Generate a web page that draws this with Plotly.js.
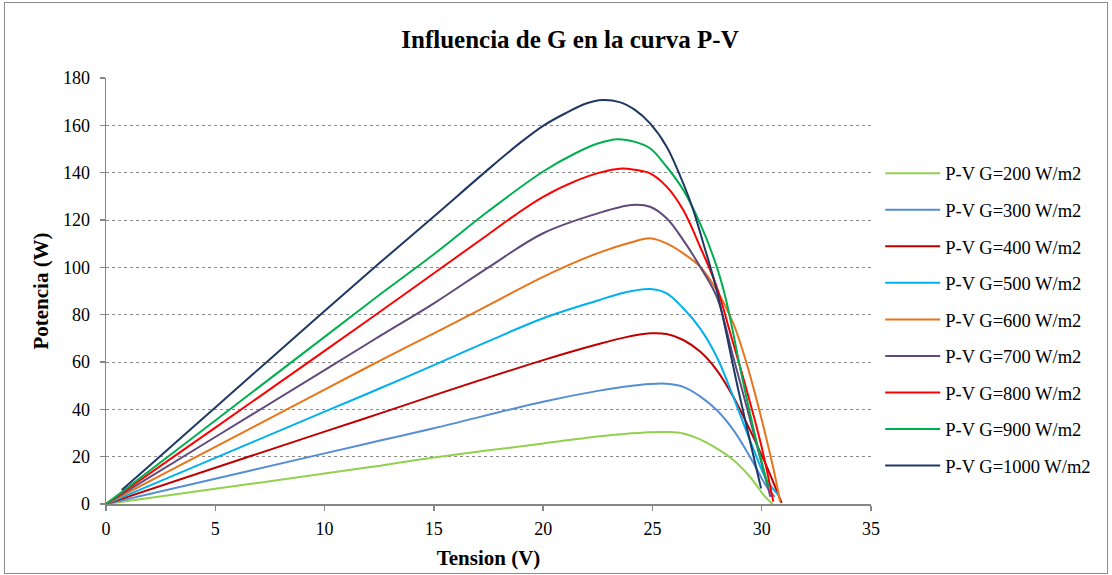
<!DOCTYPE html>
<html>
<head>
<meta charset="utf-8">
<script src="https://cdn.plot.ly/plotly-3.0.1.min.js"></script>
<style>
  html, body { margin: 0; padding: 0; background: #fff; }
  #wrap { position: relative; width: 1112px; height: 575px; }
  #chart { width: 1112px; height: 575px; }
  #frame { position: absolute; left: 4px; top: 2px; width: 1102px; height: 570px; border: 1px solid #8c8c8c; pointer-events: none; }
</style>
</head>
<body>
<div id="wrap"><div id="chart"></div><div id="frame"></div></div>
<script>
// Series names
const seriesNames = ["P-V G=200 W/m2","P-V G=300 W/m2","P-V G=400 W/m2","P-V G=500 W/m2","P-V G=600 W/m2","P-V G=700 W/m2","P-V G=800 W/m2","P-V G=900 W/m2","P-V G=1000 W/m2"];

// Voltage (V) and power (W)
const v200 = [0, 5, 10, 12.54, 15, 20, 22.5, 23.7, 24.89, 25.65, 26.41, 27.18, 27.94, 28.7, 29.46, 30.15, 30.5];
const p200 = [0, 6.4, 12.9, 16.2, 19.6, 25.6, 28.5, 29.6, 30.3, 30.4, 29.8, 27.3, 23.5, 18.6, 11.5, 3.1, 0];

const v300 = [0, 5, 10, 12.54, 15, 20, 22.5, 23.7, 24.89, 25.65, 26.41, 27.18, 27.94, 28.7, 29.46, 30.23, 30.6];
const p300 = [0, 10.7, 21.4, 26.8, 32.0, 43.2, 47.8, 49.5, 50.7, 50.8, 49.5, 45.5, 39.7, 31.3, 20.0, 7.3, 3.0];

const v400 = [0, 5, 10, 12.54, 15, 20, 22.5, 23.7, 24.89, 25.65, 26.41, 27.18, 27.94, 28.7, 29.46, 30.23, 30.91];
const p400 = [0, 15.3, 30.6, 38.3, 45.9, 60.8, 67.5, 70.3, 72.1, 71.8, 69.3, 64.4, 56.6, 45.3, 31.3, 15.8, 0.5];

const v500 = [0, 5, 10, 12.54, 15, 17.5, 20, 22.5, 23.7, 24.89, 25.65, 26.41, 27.18, 27.94, 28.7, 29.46, 30.23, 30.76];
const p500 = [0, 19.5, 39.0, 48.9, 58.7, 68.8, 78.5, 86.0, 89.3, 90.8, 89.0, 82.7, 74.2, 62.2, 45.3, 27.0, 10.1, 3.8];

const v600 = [0, 5, 10, 12.54, 15, 17.5, 20, 22.5, 24.0, 24.89, 25.65, 26.41, 27.18, 27.94, 28.7, 29.31, 29.77, 30.23, 30.68, 30.84];
const p600 = [0, 24.1, 48.3, 60.6, 72.1, 84.0, 96.0, 106.0, 110.5, 112.3, 110.1, 105.9, 100.3, 90.4, 76.3, 59.4, 43.9, 27.0, 8.7, 1.0];

const v700 = [0, 5, 10, 12.54, 15, 17.5, 20, 22.5, 24.05, 24.89, 25.65, 26.41, 27.18, 27.94, 28.7, 29.4, 30.0, 30.4];
const p700 = [0, 28.3, 56.6, 71.0, 84.8, 100.0, 114.4, 122.8, 126.3, 125.6, 120.7, 111.5, 100.3, 87.6, 62.0, 38.0, 17.0, 3.0];

const v800 = [0, 5, 10, 12.5, 15, 17.5, 18.75, 20, 21.5, 22.5, 23.6, 24.2, 24.89, 25.65, 26.41, 27.18, 27.94, 28.6, 29.31, 30.0, 30.53];
const p800 = [0, 32.3, 64.7, 81.0, 97.5, 114.0, 122.3, 129.8, 136.5, 139.8, 141.8, 141.2, 139.7, 134.1, 124.2, 108.7, 91.8, 71.0, 48.2, 24.0, 1.0];

const v900 = [0, 5, 10, 12.5, 15, 17.5, 20, 21.5, 22.5, 23.4, 24.2, 24.89, 25.65, 26.41, 27.18, 27.94, 28.37, 29.16, 29.8, 30.3];
const p900 = [0, 35.3, 70.6, 88.3, 105.5, 123.8, 140.5, 148.3, 152.3, 154.1, 153.0, 150.3, 142.5, 132.7, 118.6, 100.3, 86.2, 51.0, 25.0, 7.3];

const v1000 = [0.72, 2, 5, 7.5, 10, 12.5, 15, 17.5, 19, 20, 21, 22, 22.7, 23.5, 24.2, 24.89, 25.65, 26.41, 26.87, 27.33, 27.94, 28.93, 29.97];
const p1000 = [5.9, 16.3, 40.8, 61.2, 81.6, 101.7, 121.5, 141.5, 153.0, 159.8, 165.0, 169.3, 170.7, 169.8, 166.5, 160.8, 151.0, 135.5, 124.2, 110.1, 90.4, 48.2, 6.6];

const xTicks = [0, 5, 10, 15, 20, 25, 30, 35];
const yTicks = [0, 20, 40, 60, 80, 100, 120, 140, 160, 180];

const colors = ["#92D050", "#558ED5", "#C00000", "#00B0F0", "#E8751A", "#604A7B", "#FF0000", "#00B050", "#1F3864"];

const xs = [v200, v300, v400, v500, v600, v700, v800, v900, v1000];
const ys = [p200, p300, p400, p500, p600, p700, p800, p900, p1000];

const traces = xs.map((x, i) => ({
  type: "scatter",
  mode: "lines",
  x: x,
  y: ys[i],
  name: seriesNames[i],
  legendgroup: "g" + i,
  line: { color: colors[i], width: 2, shape: "spline", smoothing: 1 }
}));

const font = "Liberation Serif, Times New Roman, serif";

const layout = {
  width: 1112,
  height: 575,
  margin: { l: 106, r: 241, t: 78, b: 71 },
  paper_bgcolor: "#ffffff",
  plot_bgcolor: "#ffffff",
  font: { family: font, size: 18, color: "#000" },
  title: {
    text: "<b>Influencia de G en la curva P-V</b>",
    font: { family: font, size: 25, color: "#000" },
    xref: "container", x: 0.5126, xanchor: "center",
    yref: "container", y: 0.932, yanchor: "middle"
  },
  xaxis: {
    range: [0, 35],
    tickvals: xTicks,
    ticktext: xTicks.map(String),
    showgrid: false,
    zeroline: false,
    showline: true,
    linecolor: "#868686",
    linewidth: 1.5,
    ticks: "outside",
    ticklen: 5,
    tickcolor: "#868686",
    tickwidth: 1.5,
    ticklabelstandoff: 3,
    tickfont: { family: font, size: 18, color: "#000" },
    title: { text: "<b>Tension (V)</b>", font: { family: font, size: 21, color: "#000" }, standoff: 12 }
  },
  yaxis: {
    range: [0, 180],
    tickvals: yTicks,
    ticktext: yTicks.map(String),
    showgrid: true,
    gridcolor: "#8a8a8a",
    gridwidth: 1,
    griddash: "dot",
    zeroline: false,
    showline: true,
    linecolor: "#868686",
    linewidth: 1.5,
    ticks: "outside",
    ticklen: 5,
    tickcolor: "#868686",
    tickwidth: 1.5,
    ticklabelstandoff: 6,
    tickfont: { family: font, size: 18, color: "#000" },
    title: { text: "<b>Potencia (W)</b>", font: { family: font, size: 21, color: "#000" }, standoff: 8 }
  },
  showlegend: true,
  legend: {
    x: 1.012, xanchor: "left",
    y: 0.82, yanchor: "top",
    font: { family: font, size: 18.5, color: "#000" },
    tracegroupgap: 9.5,
    itemwidth: 55,
    bgcolor: "rgba(0,0,0,0)"
  }
};

Plotly.newPlot("chart", traces, layout, { displayModeBar: false, staticPlot: true });
</script>
</body>
</html>
